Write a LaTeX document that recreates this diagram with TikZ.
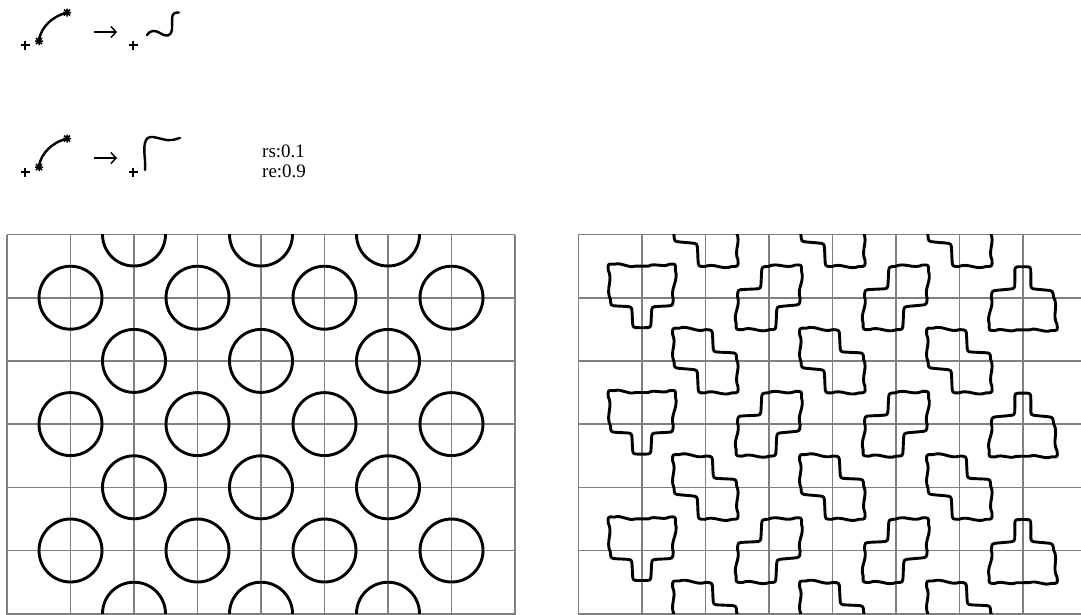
\documentclass[tikz,border=0pt]{standalone}
\usepackage{fontspec}
\setmainfont{Liberation Serif}
\usetikzlibrary{calc,arrows.meta}
\newcommand\rr{6.5pt}
\newcommand\ed[3]{to[wv] ($(#2)!\rr!(#1)$) .. controls (#2) .. ($(#2)!\rr!(#3)$)}
\newcommand\es[3]{to[ws] ($(#2)!\rr!(#1)$) .. controls (#2) .. ($(#2)!\rr!(#3)$)}
\begin{document}
\begin{tikzpicture}[x=1pt,y=-1pt,
  gridl/.style={draw=black!50, line width=1.6pt},
  tile/.style={draw=black, line width=2.9pt, line join=round},
  wv/.style={out=22,in=202,relative},
  ws/.style={out=16,in=196,relative},
  mk/.style={line width=2pt},
  crv/.style={line width=2.4pt, line cap=round},
  arrw/.style={line width=1.5pt, -{Straight Barb[length=5pt,width=11pt,line width=1.5pt]}},
  lbl/.style={anchor=base west, inner sep=0pt, font=\fontsize{19}{20}\selectfont}]
\tikzset{
 picA/.pic={
  \coordinate (p1) at (-34,-34); \coordinate (p2) at (0,-31); \coordinate (p3) at (34,-34);
  \coordinate (p4) at (31,8); \coordinate (p5) at (10,9); \coordinate (p6) at (9,30);
  \coordinate (p7) at (-9,30); \coordinate (p8) at (-10,9); \coordinate (p9) at (-31,8);
  \draw[tile] ($(p1)!\rr!(p2)$) \ed{p1}{p2}{p3} \ed{p2}{p3}{p4} \ed{p3}{p4}{p5} \es{p4}{p5}{p6}
     \es{p5}{p6}{p7} \es{p6}{p7}{p8} \es{p7}{p8}{p9} \es{p8}{p9}{p1} \ed{p9}{p1}{p2} -- cycle;},
 picAf/.pic={
  \coordinate (p1) at (-8,-31); \coordinate (p2) at (8,-31); \coordinate (p3) at (8,-9);
  \coordinate (p4) at (30,-7); \coordinate (p5) at (35,33); \coordinate (p6) at (0,32);
  \coordinate (p7) at (-34,33); \coordinate (p8) at (-31,-7); \coordinate (p9) at (-8,-9);
  \draw[tile] ($(p1)!\rr!(p2)$) \es{p1}{p2}{p3} \es{p2}{p3}{p4} \es{p3}{p4}{p5} \ed{p4}{p5}{p6}
     \ed{p5}{p6}{p7} \ed{p6}{p7}{p8} \ed{p7}{p8}{p9} \es{p8}{p9}{p1} \es{p9}{p1}{p2} -- cycle;},
 picB/.pic={
  \coordinate (p1) at (33,-33); \coordinate (p2) at (-7,-31); \coordinate (p3) at (-8,-9);
  \coordinate (p4) at (-31,-8); \coordinate (p5) at (-33,32); \coordinate (p6) at (7,32);
  \coordinate (p7) at (8,9); \coordinate (p8) at (31,7);
  \draw[tile] ($(p1)!\rr!(p2)$) \ed{p1}{p2}{p3} \ed{p2}{p3}{p4} \es{p3}{p4}{p5} \ed{p4}{p5}{p6}
     \ed{p5}{p6}{p7} \es{p6}{p7}{p8} \es{p7}{p8}{p1} \ed{p8}{p1}{p2} -- cycle;},
 picC/.pic={
  \coordinate (p1) at (-33,-33); \coordinate (p2) at (7,-31); \coordinate (p3) at (8,-9);
  \coordinate (p4) at (31,-8); \coordinate (p5) at (33,32); \coordinate (p6) at (-7,32);
  \coordinate (p7) at (-8,9); \coordinate (p8) at (-31,7);
  \draw[tile] ($(p1)!\rr!(p2)$) \ed{p1}{p2}{p3} \ed{p2}{p3}{p4} \es{p3}{p4}{p5} \ed{p4}{p5}{p6}
     \ed{p5}{p6}{p7} \es{p6}{p7}{p8} \es{p7}{p8}{p1} \ed{p8}{p1}{p2} -- cycle;},
 star/.pic={\draw[line width=1.5pt] (-4,0) -- (4,0) (0,-4) -- (0,4) (-3,-3) -- (3,3) (-3,3) -- (3,-3);},
 plus/.pic={\draw[mk] (-4.5,0) -- (4.5,0) (0,-4.5) -- (0,4.5);}
}
\useasboundingbox (0,0) rectangle (1081,614);

% ---- icon row 1
\pic at (25,45) {plus};
\pic at (39,41) {star};
\draw[crv] (39,40) .. controls (41,27) and (53,16) .. (66,13);
\pic at (67,12.5) {star};
\coordinate (a1s) at (94,32); \coordinate (a1e) at (117,32);
\draw[arrw] (a1s) -- (a1e);
\pic at (133,45) {plus};
\draw[crv] (147,35) .. controls (150,30) and (155,30) .. (160,33) .. controls (166,37) and (171,37) .. (172,29) .. controls (172.5,22) and (171,15) .. (174,13.5) .. controls (175.5,12.5) and (177,12.5) .. (179,12.5);

% ---- icon row 2
\pic at (25,172) {plus};
\pic at (39,167) {star};
\draw[crv] (39,166) .. controls (41,153) and (53,142) .. (66,139);
\pic at (67,138.5) {star};
\coordinate (a2s) at (94,158); \coordinate (a2e) at (117,158);
\draw[arrw] (a2s) -- (a2e);
\pic at (133,172) {plus};
\draw[crv] (145,170) .. controls (146,162) and (143,150) .. (145,143) .. controls (146,138) and (149,136.5) .. (153,137) .. controls (160,138) and (166,141) .. (172,140) .. controls (176,139.5) and (178,138) .. (180,138);
\node[lbl] (rs) at (262,157) {rs:0.1};
\node[lbl] (re) at (262,177) {re:0.9};

% ---- left grid
\foreach \k in {0,...,8} \draw[gridl] ({7+\k*63.5},234.5) -- ({7+\k*63.5},615);
\foreach \k in {0,...,6} \draw[gridl] (7,{234.5+\k*63.2}) -- (515,{234.5+\k*63.2});
\begin{scope}
\clip (7,234.5) rectangle (515,613.7);
\foreach \j in {0,2,4,6} \foreach \i in {2,4,6}
  \draw[tile] ({7+\i*63.5},{234.5+\j*63.2}) circle[radius=31.5];
\foreach \j in {1,3,5} \foreach \i in {1,3,5,7}
  \draw[tile] ({7+\i*63.5},{234.5+\j*63.2}) circle[radius=31.5];
\end{scope}

% ---- right grid
\foreach \k in {0,...,7} \draw[gridl] ({578.3+\k*63.5},234.5) -- ({578.3+\k*63.5},615);
\foreach \k in {0,...,6} \draw[gridl] (578.3,{234.5+\k*63.2}) -- (1082,{234.5+\k*63.2});
\begin{scope}
\clip (578.3,234.5) rectangle (1081,613.7);
\foreach \j in {0,2,4,6} \foreach \i in {2,4,6}
  \pic at ({578.3+\i*63.5},{234.5+\j*63.2}) {picC};
\foreach \j in {1,3,5} {
  \pic at ({578.3+1*63.5},{234.5+\j*63.2}) {picA};
  \pic at ({578.3+3*63.5},{234.5+\j*63.2}) {picB};
  \pic at ({578.3+5*63.5},{234.5+\j*63.2}) {picB};
  \pic at ({578.3+7*63.5},{234.5+\j*63.2}) {picAf};
}
\end{scope}
\end{tikzpicture}
\end{document}
